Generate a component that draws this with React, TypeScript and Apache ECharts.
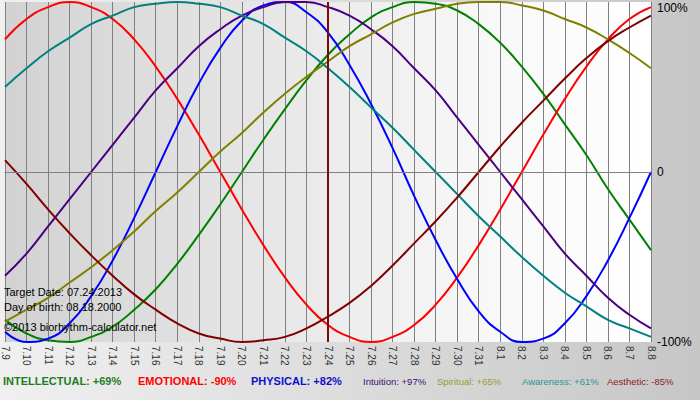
import React, { useEffect, useRef } from "react";
import * as echarts from "echarts";

const days = [
  "7.9", "7.10", "7.11", "7.12", "7.13", "7.14", "7.15", "7.16", "7.17", "7.18",
  "7.19", "7.20", "7.21", "7.22", "7.23", "7.24", "7.25", "7.26", "7.27", "7.28",
  "7.29", "7.30", "7.31", "8.1", "8.2", "8.3", "8.4", "8.5", "8.6", "8.7", "8.8",
];
const targetDay = "7.24";
const infoLines = ["Target Date: 07.24.2013", "Day of birth: 08.18.2000", "©2013 biorhythm-calculator.net"];
const yTicks = [-100, 0, 100];

const intellectual = [-87, -95, -99, -100, -97, -91, -81, -69, -54, -37, -19, 0, 19, 37, 54, 69, 81, 91, 97, 100, 99, 95, 87, 76, 62, 46, 28, 10, -10, -28, -46];
const emotional = [78, 90, 97, 100, 97, 90, 78, 62, 43, 22, 0, -22, -43, -62, -78, -90, -97, -100, -97, -90, -78, -62, -43, -22, 0, 22, 43, 62, 78, 90, 97];
const physical = [-94, -100, -98, -89, -73, -52, -27, 0, 27, 52, 73, 89, 98, 100, 94, 82, 63, 40, 14, -14, -40, -63, -82, -94, -100, -98, -89, -73, -52, -27, 0];
const intuition = [-61, -48, -32, -16, 0, 16, 32, 48, 61, 74, 84, 92, 97, 100, 100, 97, 92, 84, 74, 61, 48, 32, 16, 0, -16, -32, -48, -61, -74, -84, -92];
const spiritual = [-88, -81, -74, -65, -56, -46, -35, -23, -12, 0, 12, 23, 35, 46, 56, 65, 74, 81, 88, 93, 96, 99, 100, 100, 98, 95, 90, 85, 78, 70, 61];
const awareness = [50, 61, 71, 79, 87, 92, 97, 99, 100, 99, 97, 92, 87, 79, 71, 61, 50, 38, 26, 13, 0, -13, -26, -38, -50, -61, -71, -79, -87, -92, -97];
const aesthetic = [7, -7, -22, -36, -49, -61, -72, -81, -89, -95, -98, -100, -99, -97, -92, -85, -77, -67, -55, -42, -29, -15, 0, 15, 29, 42, 55, 67, 77, 85, 92];

const seriesNames = ["INTELLECTUAL", "EMOTIONAL", "PHYSICAL", "Intuition", "Spiritual", "Awareness", "Aesthetic"];
const seriesData = [intellectual, emotional, physical, intuition, spiritual, awareness, aesthetic];

const lineColors = ["#008000", "#ff0000", "#0000ff", "#4b0082", "#808000", "#008080", "#800000"];
const textColors = ["#1e7d1e", "#ff0000", "#1010cc", "#3c1070", "#9a9a30", "#2a9494", "#8a2020"];
const legendX = [3, 138, 251, 363, 437, 522, 607];
const legendBold = [true, true, true, false, false, false, false];

export default function App() {
  const ref = useRef<HTMLDivElement>(null);
  useEffect(() => {
    if (!ref.current) return;
    const chart = echarts.init(ref.current, null, { renderer: "svg" });
    const ti = days.indexOf(targetDay);
    const fmt = (v: number) => (v > 0 ? "+" : "") + v + "%";

    const series: any[] = seriesNames.map((name, i) => ({
      name,
      type: "line",
      data: seriesData[i],
      smooth: 0.5,
      showSymbol: false,
      lineStyle: { color: lineColors[i], width: 2 },
      z: 3,
    }));
    series[0].markLine = {
      silent: true,
      symbol: "none",
      label: { show: false },
      data: [
        { xAxis: targetDay, lineStyle: { color: "#7a0a0a", width: 2, type: "solid" } },
      ],
      z: 5,
    };
    series.unshift({
      type: "line",
      data: [],
      markLine: {
        silent: true,
        symbol: "none",
        label: { show: false },
        data: [{ yAxis: 0, lineStyle: { color: "#808080", width: 1, type: "solid" } }],
      },
      z: 1,
    });

    const graphic: any[] = [];
    infoLines.forEach((t, k) => {
      graphic.push({
        type: "text",
        left: 4,
        top: 286 + k * 15 + (k === 2 ? 5 : 0),
        style: { text: t, fill: "#000", fontSize: 11, fontFamily: "Arial, 'Liberation Sans'" },
        z: 10,
      });
    });
    seriesNames.forEach((name, i) => {
      graphic.push({
        type: "text",
        x: legendX[i],
        y: 381,
        style: {
          text: name + ": " + fmt(seriesData[i][ti]),
          fill: textColors[i],
          fontSize: legendBold[i] ? 11 : 9.5,
          fontWeight: legendBold[i] ? "bold" : "normal",
          fontFamily: "Arial, 'Liberation Sans'",
          verticalAlign: "middle",
        },
      });
    });

    chart.setOption({
      animation: false,
      backgroundColor: "transparent",
      grid: {
        left: 0,
        right: 49,
        top: 2,
        bottom: 58,
        show: true,
        borderWidth: 0,
        backgroundColor: new echarts.graphic.LinearGradient(0, 0, 1, 0, [
          { offset: 0, color: "#d2d2d2" },
          { offset: 0.45, color: "#e9e9e9" },
          { offset: 0.75, color: "#f8f8f8" },
          { offset: 1, color: "#ffffff" },
        ]),
      },
      xAxis: {
        type: "category",
        data: days,
        boundaryGap: false,
        axisLine: { show: true, lineStyle: { color: "#808080", width: 1 } },
        axisTick: { show: true, interval: 0, length: 4, lineStyle: { color: "#808080" } },
        axisLabel: {
          interval: 0,
          rotate: -90,
          margin: 4,
          fontSize: 10,
          color: "#333",
          fontFamily: "Arial, 'Liberation Sans'",
        },
        splitLine: { show: true, interval: 0, lineStyle: { color: "#808080", width: 1 } },
      },
      yAxis: {
        type: "value",
        position: "right",
        min: yTicks[0],
        max: yTicks[2],
        interval: yTicks[1] - yTicks[0],
        axisLine: { show: false },
        axisTick: { show: false },
        splitLine: { show: false },
        axisLabel: {
          margin: 6,
          fontSize: 12,
          color: "#000",
          fontFamily: "Arial, 'Liberation Sans'",
          verticalAlignMaxLabel: "top",
          formatter: (v: number) => (v === 0 ? "0" : v + "%"),
        },
      },
      series,
      graphic,
    });
    return () => chart.dispose();
  }, []);
  return (
    <div
      style={{
        position: "fixed",
        left: 0,
        top: 0,
        width: 700,
        height: 400,
        background: "linear-gradient(90deg, #f0f0f0 0%, #dedede 45%, #c6c6c6 100%)",
      }}
    >
      <div ref={ref} style={{ width: 700, height: 400 }} />
    </div>
  );
}
